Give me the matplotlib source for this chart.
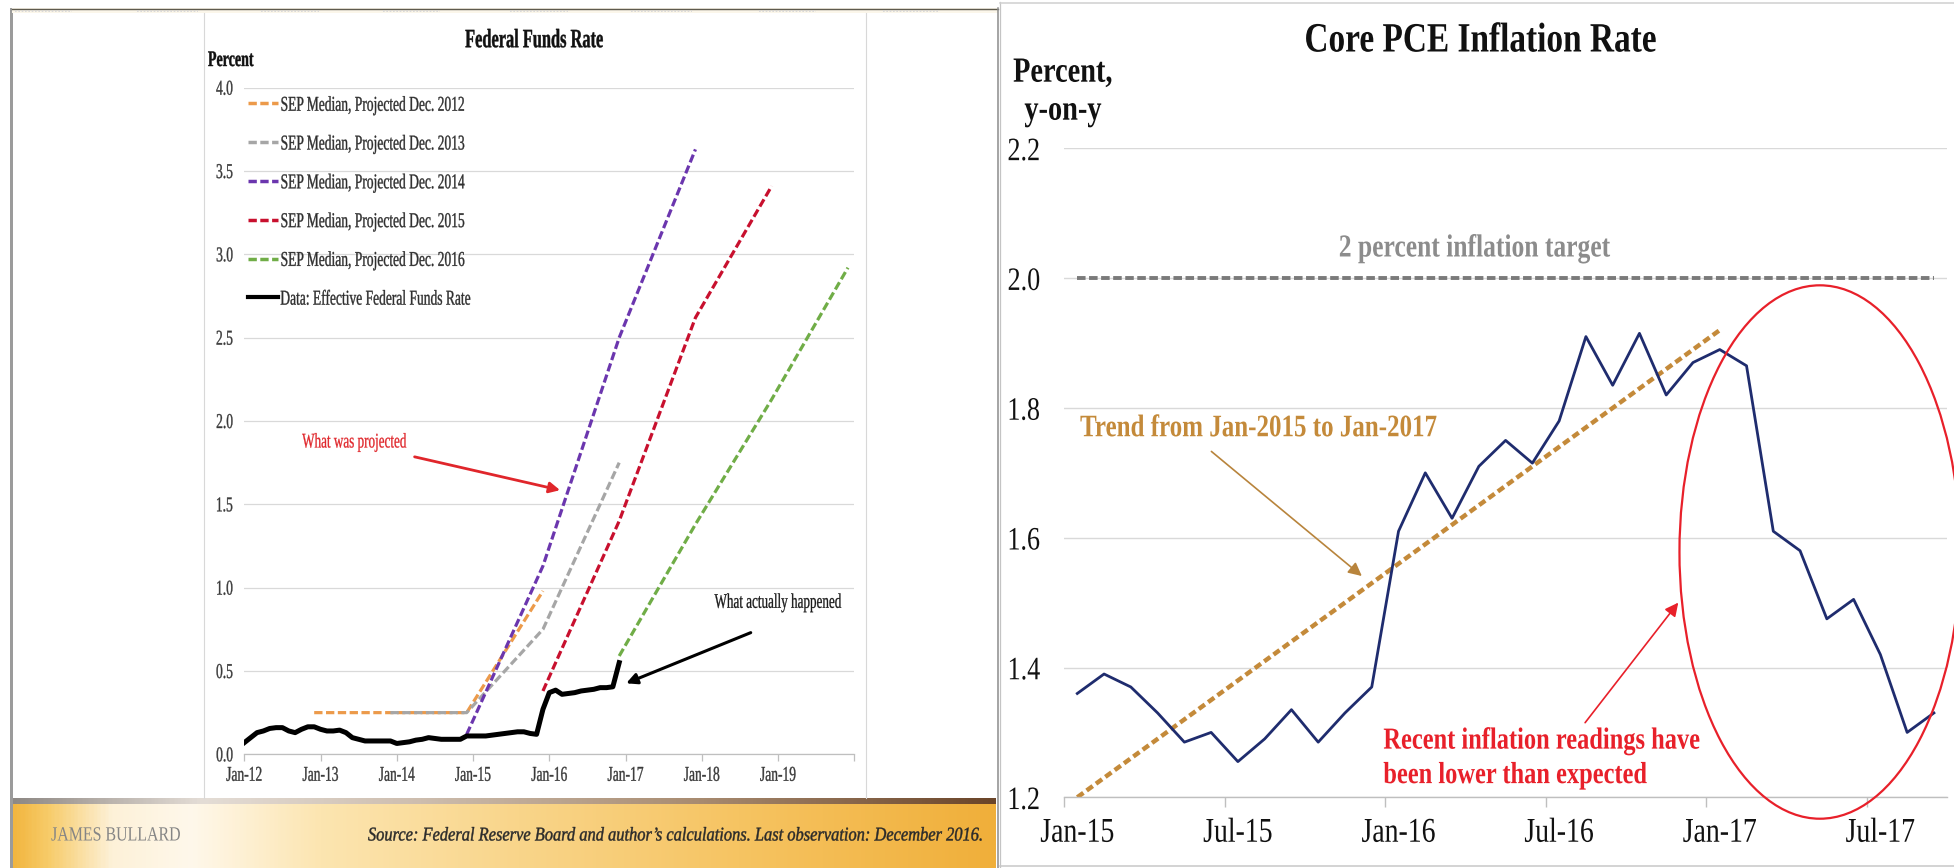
import numpy as np
import matplotlib
matplotlib.use("Agg")
import matplotlib.pyplot as plt
from matplotlib.lines import Line2D
from matplotlib.patches import Ellipse, Rectangle
from matplotlib.patheffects import AbstractPathEffect
from matplotlib.transforms import Affine2D
from matplotlib.colors import LinearSegmentedColormap

# ---------------------------------------------------------------- data
ffr_title = "Federal Funds Rate"
ffr_origin = "2012-01"
ffr_tick_labels = ["Jan-12", "Jan-13", "Jan-14", "Jan-15",
                   "Jan-16", "Jan-17", "Jan-18", "Jan-19"]
ffr_yticks = [0.0, 0.5, 1.0, 1.5, 2.0, 2.5, 3.0, 3.5, 4.0]

# effective federal funds rate, monthly, Jan-2012 .. Dec-2016
effr = [
    0.07, 0.10, 0.13, 0.14, 0.155, 0.16, 0.16, 0.14, 0.13, 0.15, 0.165, 0.165,
    0.15, 0.14, 0.14, 0.145, 0.13, 0.10, 0.09, 0.08, 0.08, 0.08, 0.08, 0.08,
    0.065, 0.07, 0.075, 0.085, 0.09, 0.10, 0.095, 0.09, 0.09, 0.09, 0.09, 0.11,
    0.11, 0.11, 0.11, 0.115, 0.12, 0.125, 0.13, 0.135, 0.135, 0.125, 0.12, 0.27,
    0.37, 0.385, 0.36, 0.365, 0.37, 0.38, 0.385, 0.39, 0.40, 0.40, 0.405, 0.55,
]

sep2012_dates = ["2012-12", "2013-12", "2014-12", "2015-12"]
sep2012_vals = [0.25, 0.25, 0.25, 0.98]
sep2013_dates = ["2013-12", "2014-12", "2015-12", "2016-12"]
sep2013_vals = [0.25, 0.25, 0.75, 1.75]
sep2014_dates = ["2014-12", "2015-12", "2016-12", "2017-12"]
sep2014_vals = [0.12, 1.13, 2.50, 3.63]
sep2015_dates = ["2015-12", "2016-12", "2017-12", "2018-12"]
sep2015_vals = [0.38, 1.40, 2.62, 3.41]
sep2016_dates = ["2016-12", "2017-12", "2018-12", "2019-12"]
sep2016_vals = [0.59, 1.38, 2.13, 2.92]

legend_labels = [
    "SEP Median, Projected Dec. 2012",
    "SEP Median, Projected Dec. 2013",
    "SEP Median, Projected Dec. 2014",
    "SEP Median, Projected Dec. 2015",
    "SEP Median, Projected Dec. 2016",
    "Data: Effective Federal Funds Rate",
]

pce_title = "Core PCE Inflation Rate"
pce_origin = "2015-01"
pce_tick_labels = ["Jan-15", "Jul-15", "Jan-16", "Jul-16", "Jan-17", "Jul-17"]
pce_yticks = [1.2, 1.4, 1.6, 1.8, 2.0, 2.2]

# core PCE inflation, percent y-on-y, monthly, Jan-2015 .. Sep-2017
core_pce = [
    1.36, 1.39, 1.37, 1.33, 1.285, 1.30, 1.255, 1.29, 1.335, 1.285, 1.33, 1.37,
    1.61, 1.70, 1.63, 1.71, 1.75, 1.715, 1.78, 1.91, 1.835, 1.915, 1.82, 1.87,
    1.89, 1.865, 1.61, 1.58, 1.475, 1.505, 1.42, 1.30, 1.33,
]
trend_dates = ["2015-01", "2017-01"]
trend_vals = [1.20, 1.92]
target_dates = ["2015-01", "2017-09"]
target_vals = [2.0, 2.0]

# ---------------------------------------------------------------- helpers
W, H = 1954, 868
SERIF = ["Liberation Serif", "DejaVu Serif"]
plt.rcParams["font.family"] = SERIF


def month_index(stamp, origin):
    y, m = (int(v) for v in stamp.split("-"))
    y0, m0 = (int(v) for v in origin.split("-"))
    return (y - y0) * 12 + (m - m0)


class Narrow(AbstractPathEffect):
    """Draw text glyphs horizontally compressed about an anchor,
    optionally with a hairline outline to thicken the strokes."""

    def __init__(self, sx, anchor="center", stroke=0.0):
        super().__init__()
        self.sx = sx
        self.anchor = anchor
        self.stroke = stroke

    def draw_path(self, renderer, gc, tpath, affine, rgbFace=None):
        ext = tpath.get_extents()
        if self.anchor == "left":
            cx = ext.x0
        elif self.anchor == "right":
            cx = ext.x1
        else:
            cx = 0.5 * (ext.x0 + ext.x1)
        squeeze = Affine2D().translate(-cx, 0).scale(self.sx, 1).translate(cx, 0)
        if self.stroke > 0 and rgbFace is not None:
            gc0 = renderer.new_gc()
            gc0.copy_properties(gc)
            gc0.set_linewidth(self.stroke)
            gc0.set_foreground(rgbFace)
            gc0.set_joinstyle("round")
            renderer.draw_path(gc0, tpath, squeeze + affine, rgbFace)
            gc0.restore()
        else:
            renderer.draw_path(gc, tpath, squeeze + affine, rgbFace)


def fx(px):
    return px / W


def fy(py):
    return 1 - py / H


def rect_px(x0, y0, x1, y1):
    return [x0 / W, 1 - y1 / H, (x1 - x0) / W, (y1 - y0) / H]


fig = plt.figure(figsize=(W / 100, H / 100), dpi=100, facecolor="white")


def fline(xs, ys, **kw):
    fig.add_artist(Line2D([fx(v) for v in xs], [fy(v) for v in ys],
                          transform=fig.transFigure, **kw))


# ---------------------------------------------------------------- slide frame
fig.add_artist(Rectangle((fx(10), fy(868)), fx(13) - fx(10), (868 - 8) / H,
                         transform=fig.transFigure, color="#9B9B9B", lw=0))
fig.add_artist(Rectangle((fx(12), fy(13)), fx(998) - fx(12), 5 / H,
                         transform=fig.transFigure, color="#FBF6EA", lw=0))
fline([12, 998], [8.5, 8.5], color="#5E5A4E", lw=1.0)
for a, b in [(15, 72), (137, 198), (261, 319), (383, 440), (510, 568),
             (631, 692), (759, 816), (883, 938)]:
    fline([a, b], [11, 11], color="#D5D5D5", lw=1.2, ls=(0, (1, 1)))
fline([203.5, 203.5], [13, 798], color="#D8D8D8", lw=0.8)
fline([865.5, 865.5], [13, 798], color="#D8D8D8", lw=0.8)
fline([998, 998], [8, 868], color="#8C8C8C", lw=1.1)
fline([1000, 1000], [2, 868], color="#C4C4C4", lw=0.9)
fline([1000, 1954], [2.5, 2.5], color="#D0D0D0", lw=1.1)
fline([1000, 1954], [866, 866], color="#C8C8C8", lw=1.1)

# banner under the left chart
strip_stops = [(12, "#8E8985"), (70, "#A9A29C"), (200, "#E4DDD6"),
               (420, "#CDBDAE"), (700, "#A88B70"), (996, "#6B4529")]
gold_stops = [(12, "#F2B640"), (45, "#F7CB68"), (110, "#FDF1D8"),
              (190, "#FFF8EB"), (320, "#FCE5B0"), (520, "#F9D58A"),
              (740, "#F6C462"), (996, "#F0AF3A")]


def gradient_axes(stops, y0, y1):
    x0, x1 = stops[0][0], stops[-1][0]
    cmap = LinearSegmentedColormap.from_list(
        "g", [((p - x0) / (x1 - x0), c) for p, c in stops])
    axg = fig.add_axes(rect_px(x0, y0, x1, y1))
    axg.imshow(np.linspace(0, 1, 600)[None, :], cmap=cmap, aspect="auto",
               extent=(0, 1, 0, 1), interpolation="bilinear")
    axg.set_axis_off()
    return axg


gradient_axes(gold_stops, 804, 868)
gradient_axes(strip_stops, 797.5, 804.5)

fig.text(fx(51), fy(836), "JAMES BULLARD", ha="left", va="center",
         fontsize=14.5, color="#858585",
         path_effects=[Narrow(0.79, "left")])
fig.text(fx(985), fy(836),
         "Source: Federal Reserve Board and author\u2019s calculations. "
         "Last observation: December 2016.",
         ha="right", va="center", fontsize=14, style="italic",
         color="#2A2A2A", path_effects=[Narrow(0.845, "right", 0.3)])

# ---------------------------------------------------------------- left chart
LSQ = 0.64
LFS = 15.2
ax1 = fig.add_axes(rect_px(244.3, 87.7, 854.3, 754.3))
ax1.set_facecolor("none")
ax1.set_xlim(0, month_index("2020-01", ffr_origin))
ax1.set_ylim(ffr_yticks[0], ffr_yticks[-1])
for side in ("top", "right", "left"):
    ax1.spines[side].set_visible(False)
ax1.spines["bottom"].set_color("#BFBFBF")
ax1.spines["bottom"].set_linewidth(0.9)
ax1.set_yticks(ffr_yticks)
ax1.set_yticklabels([f"{v:.1f}" for v in ffr_yticks])
ax1.yaxis.grid(True, color="#D9D9D9", lw=0.9)
ax1.set_axisbelow(True)
year_ticks = [month_index(f"{y}-01", ffr_origin) for y in range(2012, 2021)]
ax1.set_xticks(year_ticks)
ax1.set_xticklabels(ffr_tick_labels + [""])
ax1.tick_params(axis="x", length=5, width=0.9, color="#BFBFBF",
                labelsize=LFS, labelcolor="#3A3A3A", pad=4)
ax1.tick_params(axis="y", length=0, labelsize=LFS, labelcolor="#3A3A3A",
                pad=8)
for t in ax1.get_xticklabels():
    t.set_path_effects([Narrow(LSQ, "center", 0.25)])
for t in ax1.get_yticklabels():
    t.set_path_effects([Narrow(LSQ, "right", 0.25)])

sep_series = [
    (sep2012_dates, sep2012_vals, "#EC9A4A"),
    (sep2013_dates, sep2013_vals, "#A6A6A6"),
    (sep2014_dates, sep2014_vals, "#6B36AE"),
    (sep2015_dates, sep2015_vals, "#C8102E"),
    (sep2016_dates, sep2016_vals, "#70AD47"),
]
handles = []
for dates, vals, col in sep_series:
    xs = [month_index(d, ffr_origin) for d in dates]
    ax1.plot(xs, vals, color=col, lw=2.3, dashes=(2.6, 1.1), zorder=2)
    handles.append(Line2D([], [], color=col, lw=2.5, dashes=(2.4, 1.0)))
ax1.plot(np.arange(len(effr)), effr, color="black", lw=3.6,
         solid_joinstyle="round", zorder=3)
handles.append(Line2D([], [], color="black", lw=3.0))

leg = ax1.legend(handles, legend_labels, loc="upper left",
                 bbox_to_anchor=(fx(248), fy(96)),
                 bbox_transform=fig.transFigure, frameon=False,
                 fontsize=LFS, handlelength=1.4, handletextpad=0.12,
                 labelspacing=0.9, borderpad=0, borderaxespad=0)
for t in leg.get_texts():
    t.set_color("#2F2F2F")
    t.set_path_effects([Narrow(LSQ, "left", 0.25)])

ax1.text(17.4, 1.868, "What was projected", ha="center", va="center",
         fontsize=15, color="#E0262B",
         path_effects=[Narrow(0.63, "center", 0.2)])
ax1.annotate("", xy=(49.7, 1.585), xytext=(26.8, 1.785),
             arrowprops=dict(arrowstyle="-|>", color="#E0262B", lw=2.0,
                             mutation_scale=16, shrinkA=0, shrinkB=0))
ax1.text(84.1, 0.906, "What actually happened", ha="center", va="center",
         fontsize=15, color="#1A1A1A",
         path_effects=[Narrow(0.63, "center", 0.2)])
ax1.annotate("", xy=(60.1, 0.426), xytext=(79.7, 0.730),
             arrowprops=dict(arrowstyle="-|>", color="black", lw=2.2,
                             mutation_scale=16, shrinkA=0, shrinkB=0))

fig.text(fx(534.2), fy(40.7), ffr_title, ha="center", va="center",
         fontsize=19, fontweight="bold", color="#111111",
         path_effects=[Narrow(0.62, "center", 0.3)])
fig.text(fx(230.8), fy(61), "Percent", ha="center", va="center",
         fontsize=16, fontweight="bold", color="#111111",
         path_effects=[Narrow(0.63, "center", 0.3)])

# ---------------------------------------------------------------- right chart
RSQ = 0.8
ax2 = fig.add_axes(rect_px(1063.9, 148.4, 1947.3, 797.3))
ax2.set_facecolor("none")
n_pce = len(core_pce)
ax2.set_xlim(-0.5, n_pce - 0.5)
ax2.set_ylim(pce_yticks[0], pce_yticks[-1])
for side in ("top", "right", "left"):
    ax2.spines[side].set_visible(False)
ax2.spines["bottom"].set_color("#BFBFBF")
ax2.spines["bottom"].set_linewidth(1.0)
ax2.set_yticks(pce_yticks)
ax2.set_yticklabels([f"{v:.1f}" for v in pce_yticks])
ax2.yaxis.grid(True, color="#D9D9D9", lw=1.0)
ax2.set_axisbelow(True)
label_pos = np.arange(0, n_pce, 6)
ax2.set_xticks(label_pos)
ax2.set_xticklabels(pce_tick_labels)
ax2.set_xticks(label_pos - 0.5, minor=True)
ax2.tick_params(axis="x", which="major", length=0, labelsize=25,
                labelcolor="#111111", pad=14)
ax2.tick_params(axis="x", which="minor", length=7, width=1.0,
                color="#BFBFBF")
ax2.tick_params(axis="y", length=0, labelsize=23.5, labelcolor="#111111",
                pad=17)
for t in ax2.get_xticklabels():
    t.set_path_effects([Narrow(RSQ, "center")])
for t in ax2.get_yticklabels():
    t.set_path_effects([Narrow(RSQ, "right")])

tx = [month_index(d, pce_origin) for d in target_dates]
ax2.plot(tx, target_vals, color="#7A7A7A", lw=2.8, dashes=(2.2, 0.9), zorder=2)
trx = [month_index(d, pce_origin) for d in trend_dates]
ax2.plot(trx, trend_vals, color="#C48A3A", lw=3.2, dashes=(1.7, 0.9), zorder=2)
ax2.plot(np.arange(n_pce), core_pce, color="#1F2C6E", lw=2.0, zorder=3)

ax2.text(14.85, 2.045, "2 percent inflation target", ha="center",
         va="center", fontsize=23, fontweight="bold", color="#8C8C8C",
         path_effects=[Narrow(RSQ, "center")])
ax2.text(0.1, 1.768, "Trend from Jan-2015 to Jan-2017", ha="left",
         va="center", fontsize=22.5, fontweight="bold", color="#C48A3A",
         path_effects=[Narrow(RSQ, "left")])
ax2.annotate("", xy=(10.63, 1.541), xytext=(5.01, 1.733),
             arrowprops=dict(arrowstyle="-|>", color="#B8843C", lw=1.2,
                             mutation_scale=20, shrinkA=0, shrinkB=0))
ax2.text(11.43, 1.260, "Recent inflation readings have\nbeen lower than expected",
         ha="left", va="center", fontsize=22, fontweight="bold",
         color="#E8202A", linespacing=1.25,
         path_effects=[Narrow(RSQ, "left")])
ax2.annotate("", xy=(22.45, 1.50), xytext=(18.97, 1.315),
             arrowprops=dict(arrowstyle="-|>", color="#E8202A", lw=1.2,
                             mutation_scale=20, shrinkA=0, shrinkB=0))
ax2.add_patch(Ellipse((27.74, 1.578), width=10.49, height=0.822, fill=False,
                      ec="#E8202A", lw=1.6, clip_on=False, zorder=4))

fig.text(fx(1480), fy(41.5), pce_title, ha="center", va="center",
         fontsize=30, fontweight="bold", color="#111111",
         path_effects=[Narrow(RSQ, "center")])
fig.text(fx(1063), fy(92.2), "Percent,\ny-on-y", ha="center", va="center",
         fontsize=25.5, fontweight="bold", color="#111111", linespacing=1.2,
         path_effects=[Narrow(RSQ, "center")])

fig.savefig("out.png", dpi=100, facecolor="white")
